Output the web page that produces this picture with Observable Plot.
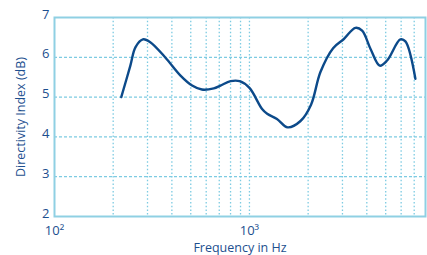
<!DOCTYPE html>
<html>
<head>
<meta charset="utf-8">
<script src="https://cdn.jsdelivr.net/npm/d3@7"></script>
<script src="https://cdn.jsdelivr.net/npm/@observablehq/plot@0.6"></script>
<style>
  html, body { margin: 0; padding: 0; background: #fff; }
  #chart svg { display: block; }
</style>
</head>
<body>
<div id="chart"></div>
<script>
const freq = [220, 245, 260, 284, 310, 371, 443, 508, 570, 656, 710, 800, 890, 1000, 1161, 1233, 1384, 1570, 1828, 2070, 2313, 2686, 3050, 3497, 3785, 4180, 4660, 5083, 5944, 6310, 7100];
const di =   [5.0, 5.79, 6.25, 6.45, 6.38, 5.99, 5.54, 5.29, 5.19, 5.22, 5.29, 5.4, 5.4, 5.23, 4.7, 4.58, 4.45, 4.24, 4.4, 4.81, 5.63, 6.23, 6.46, 6.74, 6.67, 6.21, 5.79, 5.92, 6.45, 6.4, 5.46];
const xGrid = [200, 300, 400, 500, 600, 700, 800, 900, 1000, 2000, 3000, 4000, 5000, 6000, 7000];
const yGrid = [3, 4, 5, 6];
const yTicks = [2, 3, 4, 5, 6, 7];
const xTicks = [100, 1000];
const xTickLabels = ["10²", "10³"];

const data = freq.map((f, i) => ({f, v: di[i]}));
const textColor = "#1d4f8f";
const gridColor = "#7dcbe2";
const frameColor = "#8fd0e3";

const chart = Plot.plot({
  width: 427,
  height: 255,
  marginLeft: 54,
  marginRight: 2,
  marginTop: 17,
  marginBottom: 39,
  style: {fontFamily: "Open Sans, sans-serif", fontSize: "12px", color: textColor, background: "#fff"},
  x: {type: "log", domain: [100, 8000], label: null},
  y: {domain: [2, 7], label: null},
  marks: [
    Plot.ruleX(xGrid, {stroke: gridColor, strokeWidth: 1.3, strokeDasharray: "1.5,2.2"}),
    Plot.ruleY(yGrid, {stroke: gridColor, strokeWidth: 1.3, strokeDasharray: "3,2"}),
    Plot.frame({stroke: frameColor, strokeWidth: 2}),
    Plot.line(data, {x: "f", y: "v", curve: "catmull-rom", stroke: "#0c4a8a", strokeWidth: 2.4}),
    Plot.axisY(yTicks, {tickSize: 0, tickPadding: 5, dy: -3, fill: textColor, fontSize: 13, label: null}),
    Plot.axisX(xTicks, {tickSize: 0, tickPadding: 9, fill: textColor, fontSize: 13, label: null,
      tickFormat: d => xTickLabels[xTicks.indexOf(d)]}),
    Plot.text(["Frequency in Hz"], {frameAnchor: "bottom", dy: 35, fill: textColor, fontSize: 12.5}),
    Plot.text(["Directivity Index (dB)"], {frameAnchor: "left", dx: -34, rotate: -90, textAnchor: "middle", fill: textColor, fontSize: 12.5})
  ]
});
document.getElementById("chart").appendChild(chart);
</script>
</body>
</html>
